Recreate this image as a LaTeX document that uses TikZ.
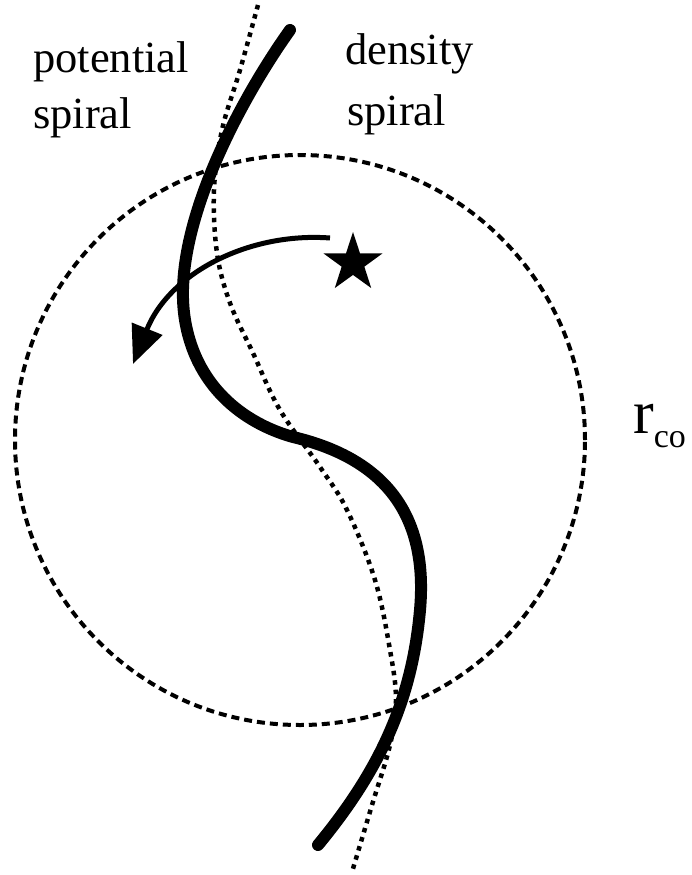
\documentclass[tikz,border=0pt]{standalone}
\usepackage{fontspec}
\setmainfont{Liberation Serif}
\usetikzlibrary{arrows.meta,shapes.geometric}
\begin{document}
\begin{tikzpicture}[x=1pt,y=-1pt,
  lbl/.style={anchor=base west,inner sep=0pt,font=\fontsize{44.5}{44.5}\selectfont},
  circ/.style={line width=4pt,dash pattern=on 8pt off 5pt},
  potsp/.style={line width=4.5pt,dash pattern=on 4.5pt off 5pt},
  densp/.style={line width=12pt,line cap=round},
  rot/.style={line width=5pt,-{Triangle[length=38pt,width=32pt]}}]
\useasboundingbox (0,0) rectangle (691,875);
\node[circle,draw,circ,minimum size=570pt,inner sep=0pt] (co) at (300,440) {};
\draw[potsp] plot[smooth,tension=0.6] coordinates {(258,5) (240,70) (222,130) (214,190) (217,253) (230,303) (253,353) (280,410) (320,467) (347,510) (375,580) (390,650) (396,700) (390,745) (372,805) (352,872)};
\draw[densp] (290,30) .. controls (240,100) and (170,230) .. (185,320)
  .. controls (197,392) and (250,425) .. (293,437)
  .. controls (390,460) and (428,520) .. (420,610)
  .. controls (412,700) and (380,770) .. (318,845);
\node[star,star points=5,star point ratio=2.6,fill=black,minimum size=62pt,inner sep=0pt] (sp) at (353,263) {};
\coordinate (a0) at (330,238);
\draw[rot] (a0) .. controls (250,232) and (170,272) .. (133,364);
\node[lbl] (t1) at (33,73) {potential};
\node[lbl] (t2) at (33,128) {spiral};
\node[lbl] (t3) at (345,65) {density};
\node[lbl] (t4) at (347,125) {spiral};
\node[anchor=base west,inner sep=0pt] (rc) at (633,433) {{\fontsize{62}{62}\selectfont r}\raisebox{-14pt}{\fontsize{34}{34}\selectfont co}};
\end{tikzpicture}
\end{document}
